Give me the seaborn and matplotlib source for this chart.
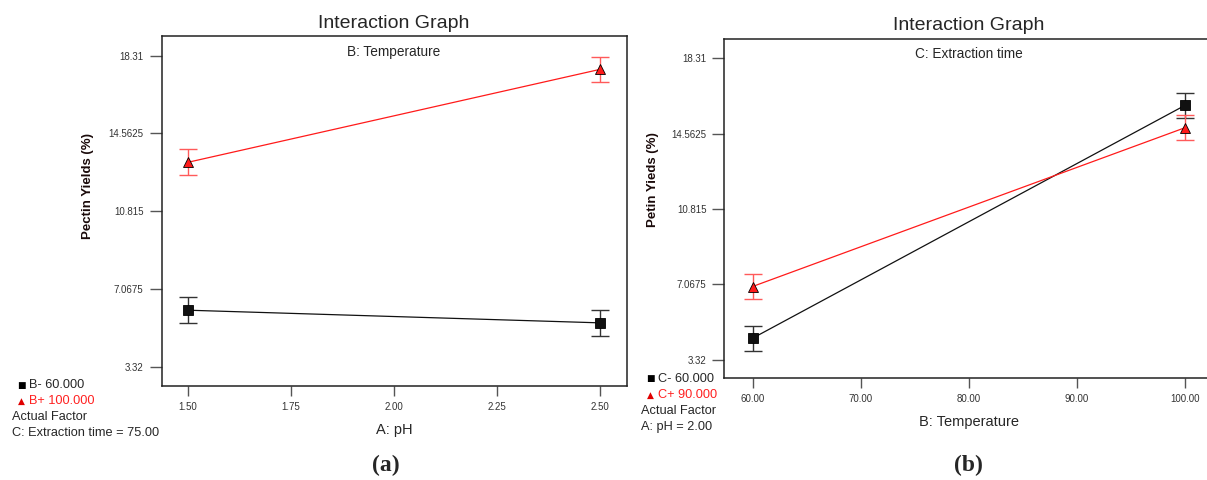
import matplotlib
matplotlib.use("Agg")
import matplotlib.pyplot as plt
from matplotlib import font_manager
import pandas as pd
import seaborn as sns

# data
ph_levels = [1.50, 2.50]
temp_low_a = [6.04, 5.43]       # B- 60.000
temp_high_a = [13.17, 17.65]    # B+ 100.000
err_a = [0.62, 0.62]

temp_levels = [60.0, 100.0]
time_low_b = [4.39, 15.96]      # C- 60.000
time_high_b = [6.96, 14.85]     # C+ 90.000
err_b = [0.62, 0.62]

y_ticks = [3.32, 7.0675, 10.815, 14.5625, 18.31]
y_tick_labels = ["3.32", "7.0675", "10.815", "14.5625", "18.31"]
x_ticks_a = [1.50, 1.75, 2.00, 2.25, 2.50]
x_ticks_b = [60, 70, 80, 90, 100]

sns.set_style("white")
names = {f.name for f in font_manager.fontManager.ttflist}
narrow = "Liberation Sans Narrow" if "Liberation Sans Narrow" in names else "Liberation Sans"
plt.rcParams["font.family"] = [narrow, "DejaVu Sans"]

W, H = 1207, 480
fig = plt.figure(figsize=(W / 100, H / 100), dpi=100)


def box(l, t, r, b):
    return [l / W, 1 - b / H, (r - l) / W, (b - t) / H]


RED = "#ff1a1a"
RED_ERR = "#ff5a5a"
BLK = "#111111"
BLK_ERR = "#333333"


def panel(rect, x, low, high, err, xlim, xticks, xfmt, sub, xlab, ylab, lab_low, lab_high,
          factor, legend_xy, ylab_xy, title_y, tag, tag_x):
    ax = fig.add_axes(box(*rect))
    df = pd.DataFrame({
        "x": x + x,
        "y": low + high,
        "grp": [lab_low] * len(x) + [lab_high] * len(x),
    })
    sns.lineplot(data=df, x="x", y="y", hue="grp", style="grp",
                 palette={lab_low: BLK, lab_high: RED},
                 markers={lab_low: "s", lab_high: "^"}, dashes=False,
                 markersize=7, linewidth=0.9, legend=False, ax=ax,
                 markeredgecolor="black", markeredgewidth=0.6, zorder=3)
    ax.errorbar(x, low, yerr=err, fmt="none", ecolor=BLK_ERR, elinewidth=1.0,
                capsize=6.5, capthick=1.0, zorder=2)
    ax.errorbar(x, high, yerr=err, fmt="none", ecolor=RED_ERR, elinewidth=1.0,
                capsize=6.5, capthick=1.0, zorder=2)
    ax.set_xlim(*xlim)
    ax.set_ylim(2.40, 19.26)
    ax.set_yticks(y_ticks)
    ax.set_yticklabels(y_tick_labels)
    ax.set_xticks(xticks)
    ax.set_xticklabels([xfmt.format(v) for v in xticks])
    ax.tick_params(axis="y", direction="out", length=9, width=1, color="#555555",
                   labelsize=7, pad=4, labelcolor="#333333", left=True)
    ax.tick_params(axis="x", direction="out", length=7.5, width=1, color="#555555",
                   labelsize=7, pad=4, labelcolor="#333333", bottom=True)
    for s in ax.spines.values():
        s.set_color("#222222")
        s.set_linewidth(1.1)
    ax.set_xlabel(xlab, fontsize=10.5, labelpad=8)
    ax.set_ylabel("")
    ax.text(0.5, 0.975, sub, transform=ax.transAxes, ha="center", va="top", fontsize=9.8)
    cx = (rect[0] + rect[2]) / 2
    fig.text(cx / W, 1 - title_y / H, "Interaction Graph", ha="center", va="center", fontsize=14)
    fig.text(ylab_xy[0] / W, 1 - ylab_xy[1] / H, ylab, rotation=90, ha="center", va="center",
             fontsize=9.5, fontweight="bold", color="#1a0a0a")
    lx, ly = legend_xy
    fig.text((lx + 4) / W, 1 - ly / H, "\u25a0", ha="center", va="center", fontsize=6.5,
             color="black", family="DejaVu Sans")
    fig.text((lx + 12) / W, 1 - ly / H, lab_low, ha="left", va="center", fontsize=9.2)
    fig.text((lx + 4) / W, 1 - (ly + 16) / H, "\u25b2", ha="center", va="center", fontsize=6.5,
             color="#e00000", family="DejaVu Sans")
    fig.text((lx + 12) / W, 1 - (ly + 16) / H, lab_high, ha="left", va="center", fontsize=9.2,
             color="#ff2020")
    fig.text((lx - 5) / W, 1 - (ly + 32) / H, "Actual Factor", ha="left", va="center", fontsize=9.2)
    fig.text((lx - 5) / W, 1 - (ly + 48) / H, factor, ha="left", va="center", fontsize=9.2)
    fig.text(tag_x / W, 1 - 465 / H, tag, ha="center", va="center", fontsize=17,
             fontweight="bold", family="Liberation Serif")
    return ax


panel((161.5, 36, 626.7, 385.7), ph_levels, temp_low_a, temp_high_a, err_a,
      (1.436, 2.565), x_ticks_a, "{:.2f}", "B: Temperature", "A: pH", "Pectin Yields (%)",
      "B- 60.000", "B+ 100.000", "C: Extraction time = 75.00", (17, 385.5), (88, 186), 23,
      "(a)", 386)

panel((724.4, 39, 1213, 378.3), temp_levels, time_low_b, time_high_b, err_b,
      (57.4, 102.6), x_ticks_b, "{:.2f}", "C: Extraction time", "B: Temperature",
      "Petin Yieds (%)", "C- 60.000", "C+ 90.000", "A: pH = 2.00", (646, 379), (653, 180), 26,
      "(b)", 968)

fig.savefig("out.png", dpi=100, facecolor="white")
